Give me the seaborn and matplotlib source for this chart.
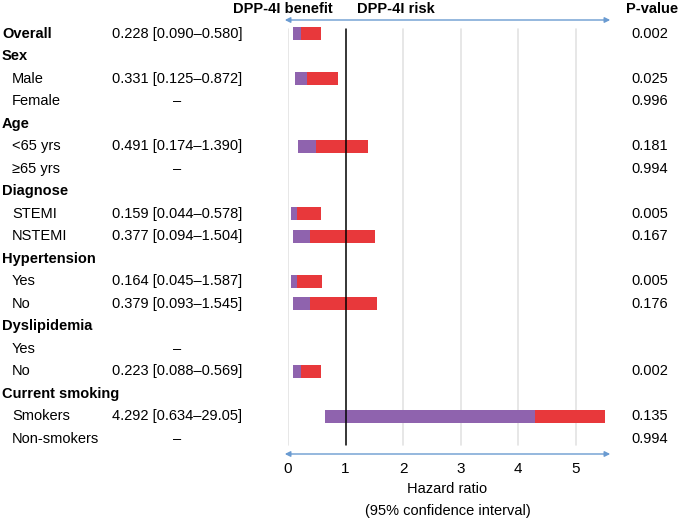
import numpy as np
import pandas as pd
import matplotlib.pyplot as plt
import matplotlib.transforms as mtransforms
import seaborn as sns

sns.set_style('white')
plt.rcParams['font.family'] = ['Liberation Sans', 'DejaVu Sans']
plt.rcParams['text.color'] = 'black'
plt.rcParams['axes.labelcolor'] = 'black'
plt.rcParams['xtick.color'] = 'black'

# rows of the forest plot (top to bottom)
labels = ['Overall', 'Sex', 'Male', 'Female', 'Age', '<65 yrs', '\u226565 yrs',
          'Diagnose', 'STEMI', 'NSTEMI', 'Hypertension', 'Yes', 'No',
          'Dyslipidemia', 'Yes', 'No', 'Current smoking', 'Smokers', 'Non-smokers']
is_header = [True, True, False, False, True, False, False,
             True, False, False, True, False, False,
             True, False, False, True, False, False]
hr_text = ['0.228 [0.090\u20130.580]', '', '0.331 [0.125\u20130.872]', '\u2013', '',
           '0.491 [0.174\u20131.390]', '\u2013', '', '0.159 [0.044\u20130.578]',
           '0.377 [0.094\u20131.504]', '', '0.164 [0.045\u20131.587]',
           '0.379 [0.093\u20131.545]', '', '\u2013', '0.223 [0.088\u20130.569]', '',
           '4.292 [0.634\u201329.05]', '\u2013']
p_text = ['0.002', '', '0.025', '0.996', '', '0.181', '0.994', '', '0.005', '0.167',
          '', '0.005', '0.176', '', '', '0.002', '', '0.135', '0.994']

# bar values as drawn (nan = no bar); upper of Smokers is cut at the axis end
hr    = [0.228, np.nan, 0.331, np.nan, np.nan, 0.491, np.nan, np.nan, 0.159, 0.377,
         np.nan, 0.164, 0.379, np.nan, np.nan, 0.223, np.nan, 4.292, np.nan]
lower = [0.090, np.nan, 0.125, np.nan, np.nan, 0.174, np.nan, np.nan, 0.044, 0.094,
         np.nan, 0.045, 0.093, np.nan, np.nan, 0.088, np.nan, 0.634, np.nan]
upper = [0.580, np.nan, 0.872, np.nan, np.nan, 1.390, np.nan, np.nan, 0.578, 1.504,
         np.nan, 0.587, 1.545, np.nan, np.nan, 0.569, np.nan, 5.50, np.nan]

df = pd.DataFrame({'label': labels, 'hr': hr, 'lower': lower, 'upper': upper})
df['row'] = np.arange(len(df))
d = df.dropna()

purple = '#8F63AE'
red = '#E8383B'
arrow_col = '#6A9BD1'

fig = plt.figure(figsize=(6.8, 5.2), dpi=100)
ax = fig.add_axes([288/680, 1 - 454/520, (607 - 288)/680, (454 - 20)/520])
xmax = 5.54
ax.set_xlim(0, xmax)
ax.set_ylim(len(df) - 0.33, -0.62)

# grid and reference line
for g in [0, 2, 3, 4, 5]:
    ax.axvline(g, ymin=0.02, ymax=0.98, color='#E3E3E3', lw=1.2, zorder=0)
ax.axvline(1, ymin=0.02, ymax=0.98, color='black', lw=1.1, zorder=3)

ax.barh(d['row'], d['hr'] - d['lower'], left=d['lower'], height=0.58,
        color=purple, linewidth=0, zorder=2)
ax.barh(d['row'], d['upper'] - d['hr'], left=d['hr'], height=0.58,
        color=red, linewidth=0, zorder=2)

# double arrows top and bottom
for yy in [0.0, 1.0]:
    ax.annotate('', xy=(-0.01, yy), xytext=(1.01, yy), xycoords='axes fraction',
                arrowprops=dict(arrowstyle='<|-|>', color=arrow_col, lw=1.0,
                                mutation_scale=8, shrinkA=0, shrinkB=0),
                annotation_clip=False)

sns.despine(ax=ax, left=True, bottom=True)
ax.set_yticks([])
ax.set_xticks([0, 1, 2, 3, 4, 5])
ax.tick_params(axis='x', length=0, labelsize=11, pad=6)
ax.set_xlabel('Hazard ratio\n(95% confidence interval)', fontsize=10.5,
              linespacing=1.75, labelpad=4)

# text columns, x in figure pixels, y in data rows
row_tr = mtransforms.blended_transform_factory(fig.transFigure, ax.transData)
for i in range(len(df)):
    y = i
    ax.text((2 if is_header[i] else 12) / 680, y, labels[i],
            fontsize=10.5, fontweight='bold' if is_header[i] else 'normal',
            va='center', ha='left', transform=row_tr)
    ax.text(177 / 680, y, hr_text[i], fontsize=10.5, va='center', ha='center',
            transform=row_tr)
    ax.text(668 / 680, y, p_text[i], fontsize=10.5, va='center', ha='right',
            transform=row_tr)

fig.text(333 / 680, 1 - 9/520, 'DPP-4I benefit', fontsize=10.5, fontweight='bold',
         ha='right', va='center')
fig.text(357 / 680, 1 - 9/520, 'DPP-4I risk', fontsize=10.5, fontweight='bold',
         ha='left', va='center')
fig.text(678 / 680, 1 - 9/520, 'P-value', fontsize=10.5, fontweight='bold',
         ha='right', va='center')

fig.savefig('out.png', dpi=100)
